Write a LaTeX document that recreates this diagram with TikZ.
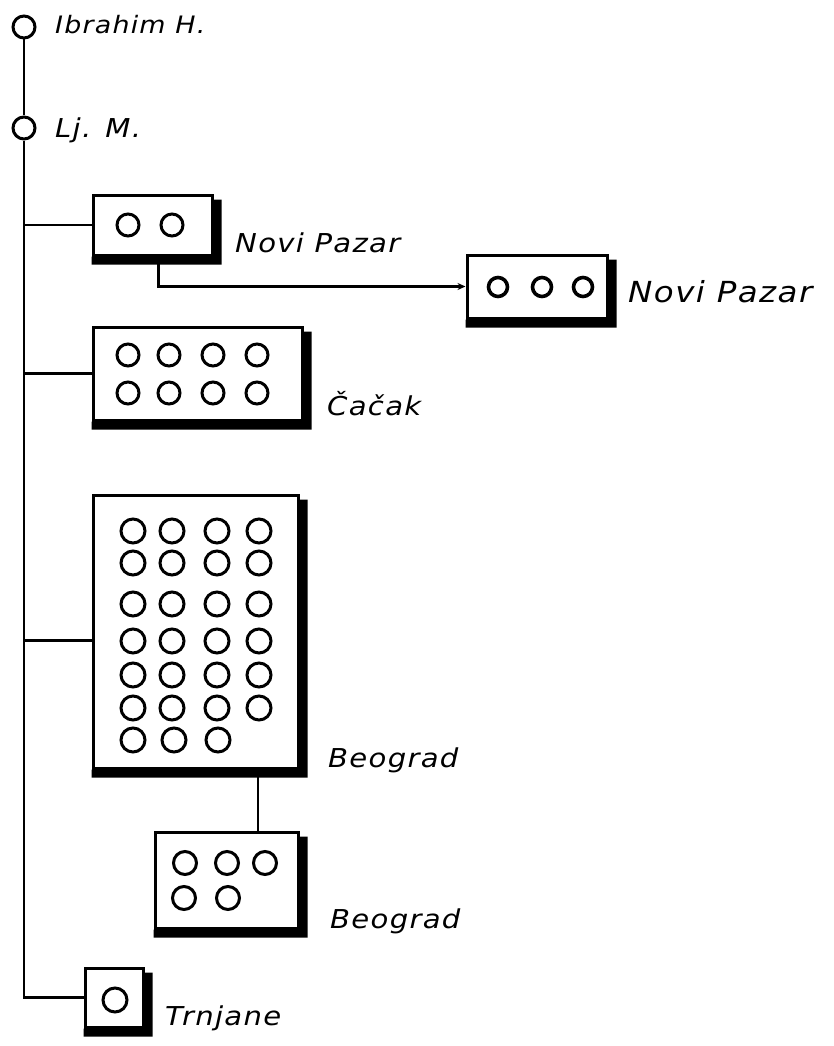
\documentclass[tikz,border=0pt]{standalone}
\usepackage{fontspec}
\newfontfamily\handfont[FakeStretch=1.12,LetterSpace=5]{DejaVu Sans}
\usetikzlibrary{arrows.meta,positioning,calc}
\tikzset{
  linkln/.style={line width=2.6pt},
  unitbox/.style={draw, line width=3pt, fill=white, inner sep=0pt},
  seat/.style={line width=3pt},
  person/.style={circle, draw, line width=3pt, minimum size=22pt, inner sep=0pt},
  placelbl/.style={anchor=base west, inner sep=0pt, font=\fontsize{26}{30}\selectfont\handfont\itshape},
  guide/.style={-{Stealth[length=8pt,width=7pt]}, line width=2.4pt},
}
\newcommand{\shadowof}[1]{%
  \fill ($(#1.north east)+(0,6)$) -- ++(8,0) |- ($(#1.south west)+(0,8)$)
    -- (#1.south west) -- (#1.south east) -- cycle;
}

\begin{document}
\begin{tikzpicture}[x=1pt, y=-1pt]
    \useasboundingbox (0,0) rectangle (833,1046);
    % the two people at the top
    \node[person] (ibr) at (24,27) {};
    \node[person] (ljm) at (24,128) {};
    \node[placelbl, font=\fontsize{24}{28}\selectfont\handfont\itshape] (ibrlbl) at (55,34) {Ibrahim H.};
    \node[placelbl] (ljmlbl) at (55,138) {Lj. M.};
    % the boxes, one per place
    \node[unitbox, minimum width=119pt, minimum height=60pt] (np1) at (152.5,225) {};
    \node[unitbox, minimum width=140pt, minimum height=63pt] (np2) at (537,286.5) {};
    \node[unitbox, minimum width=209pt, minimum height=93pt] (cac) at (197.5,373.5) {};
    \node[unitbox, minimum width=205pt, minimum height=273pt] (beo) at (195.5,631.5) {};
    \node[unitbox, minimum width=143pt, minimum height=96pt] (beo2) at (226.5,880) {};
    \node[unitbox, minimum width=58pt, minimum height=59pt] (trn) at (114,997.5) {};
    % trunk and branches
    \draw[linkln] (ibr) -- (ljm);
    \draw[linkln] (ljm.south) -- (ljm.south |- trn.west) -- (trn.west);
    \draw[linkln] (ljm.south |- np1.west) -- (np1.west);
    \draw[linkln] (ljm.south |- cac.west) -- (cac.west);
    \coordinate (beoin) at ($(beo.west)+(0,9)$);
    \draw[linkln] (ljm.south |- beoin) -- (beoin);
    % Novi Pazar to Novi Pazar
    \coordinate (np1out) at ($(np1.south west)!0.55!(np1.south east)$);
    \draw[guide] (np1out) |- (np2.west);
    % Beograd to Beograd
    \coordinate (beoout) at ($(beo.south west)!0.8!(beo.south east)$);
    \draw[linkln] (beoout) -- (beoout |- beo2.north);
    % shadows
    \foreach \b in {np1,np2,cac,beo,beo2,trn} {\shadowof{\b}}
    % seats
    \foreach \x in {128,172} \draw[seat] (\x,225) circle (11pt);
    \foreach \x in {498,542,583} \draw[seat, line width=3.6pt] (\x,287) circle (9.5pt);
    \foreach \x in {128,169,213,257} \foreach \y in {355,393}
      \draw[seat] (\x,\y) circle (11pt);
    \foreach \y in {531,563,604,641,675,708} \foreach \x in {133,172,217,259}
      \draw[seat] (\x,\y) circle (12pt);
    \foreach \x in {133,174,218} \draw[seat] (\x,740) circle (12pt);
    \foreach \x in {185,227,265} \draw[seat] (\x,863) circle (11.5pt);
    \foreach \x in {184,228} \draw[seat] (\x,898) circle (11.5pt);
    \draw[seat] (115,1000) circle (12pt);
    % place names
    \node[placelbl] (np1lbl) at (235,252) {Novi Pazar};
    \node[placelbl, font=\fontsize{29}{34}\selectfont\handfont\itshape] (np2lbl) at (628,302) {Novi Pazar};
    \node[placelbl] (caclbl) at (327,415) {Čačak};
    \node[placelbl] (beolbl) at (328,767) {Beograd};
    \node[placelbl] (beo2lbl) at (330,928) {Beograd};
    \node[placelbl] (trnlbl) at (165,1025) {Trnjane};
  \end{tikzpicture}
\end{document}
